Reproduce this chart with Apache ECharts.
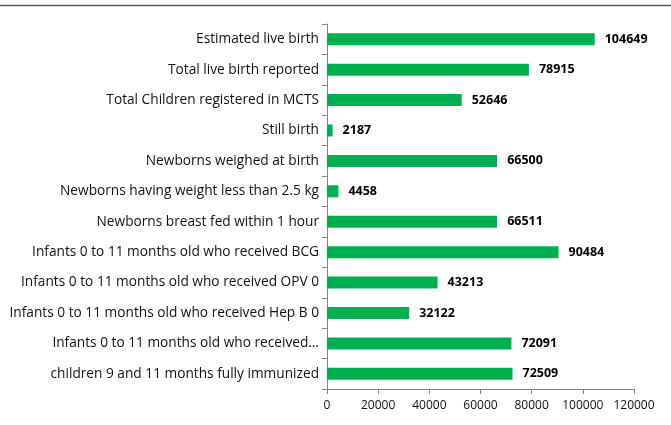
<!DOCTYPE html>
<html>
<head>
<meta charset="utf-8">
<script src="https://cdn.jsdelivr.net/npm/echarts@6/dist/echarts.min.js"></script>
<style>
  html, body { margin: 0; padding: 0; background: #fff; }
  #chart { width: 671px; height: 425px; }
</style>
</head>
<body>
<div id="chart"></div>
<script>
// top to bottom, as in the picture
var categories = [
    'Estimated live birth',
    'Total live birth reported',
    'Total Children registered in MCTS',
    'Still birth',
    'Newborns weighed at birth',
    'Newborns having weight less than 2.5 kg',
    'Newborns breast fed within 1 hour',
    'Infants 0 to 11 months old who received BCG',
    'Infants 0 to 11 months old who received OPV 0',
    'Infants 0 to 11 months old who received Hep B 0',
    'Infants 0 to 11 months old who received…',
    'children 9 and 11 months fully immunized'
];
var values = [104649, 78915, 52646, 2187, 66500, 4458, 66511, 90484, 43213, 32122, 72091, 72509];
var xTicks = [0, 20000, 40000, 60000, 80000, 100000, 120000];

var font = '"Open Sans", "Noto Sans", sans-serif';

var option = {
    animation: false,
    backgroundColor: '#fff',
    grid: {
        left: 327,
        right: 37,
        top: 24,
        bottom: 36
    },
    xAxis: {
        type: 'value',
        min: xTicks[0],
        max: xTicks[xTicks.length - 1],
        interval: xTicks[1] - xTicks[0],
        axisLine: { show: true, lineStyle: { color: '#868686', width: 1 } },
        axisTick: { show: true, length: 5, lineStyle: { color: '#868686' } },
        splitLine: { show: false },
        axisLabel: {
            color: '#111',
            fontFamily: font,
            fontSize: 12,
            margin: 11,
            formatter: function (v) { return String(v); }
        }
    },
    yAxis: {
        type: 'category',
        inverse: true,
        data: categories,
        axisLine: { show: true, lineStyle: { color: '#868686', width: 1 } },
        axisTick: { show: true, length: 5, lineStyle: { color: '#868686' } },
        axisLabel: {
            color: '#111',
            fontFamily: font,
            fontSize: 13.7,
            margin: 8
        }
    },
    series: [
        {
            type: 'bar',
            data: values,
            barWidth: 12,
            itemStyle: { color: '#00B050' },
            label: {
                show: true,
                position: 'right',
                distance: 10,
                color: '#000',
                fontFamily: font,
                fontWeight: 'bold',
                fontSize: 12.5
            }
        }
    ],
    graphic: [
        {
            type: 'line',
            shape: { x1: 0, y1: 5.5, x2: 671, y2: 5.5 },
            style: { stroke: '#555', lineWidth: 1.5 }
        }
    ]
};

var myChart = echarts.init(document.getElementById('chart'));
myChart.setOption(option);
</script>
</body>
</html>
